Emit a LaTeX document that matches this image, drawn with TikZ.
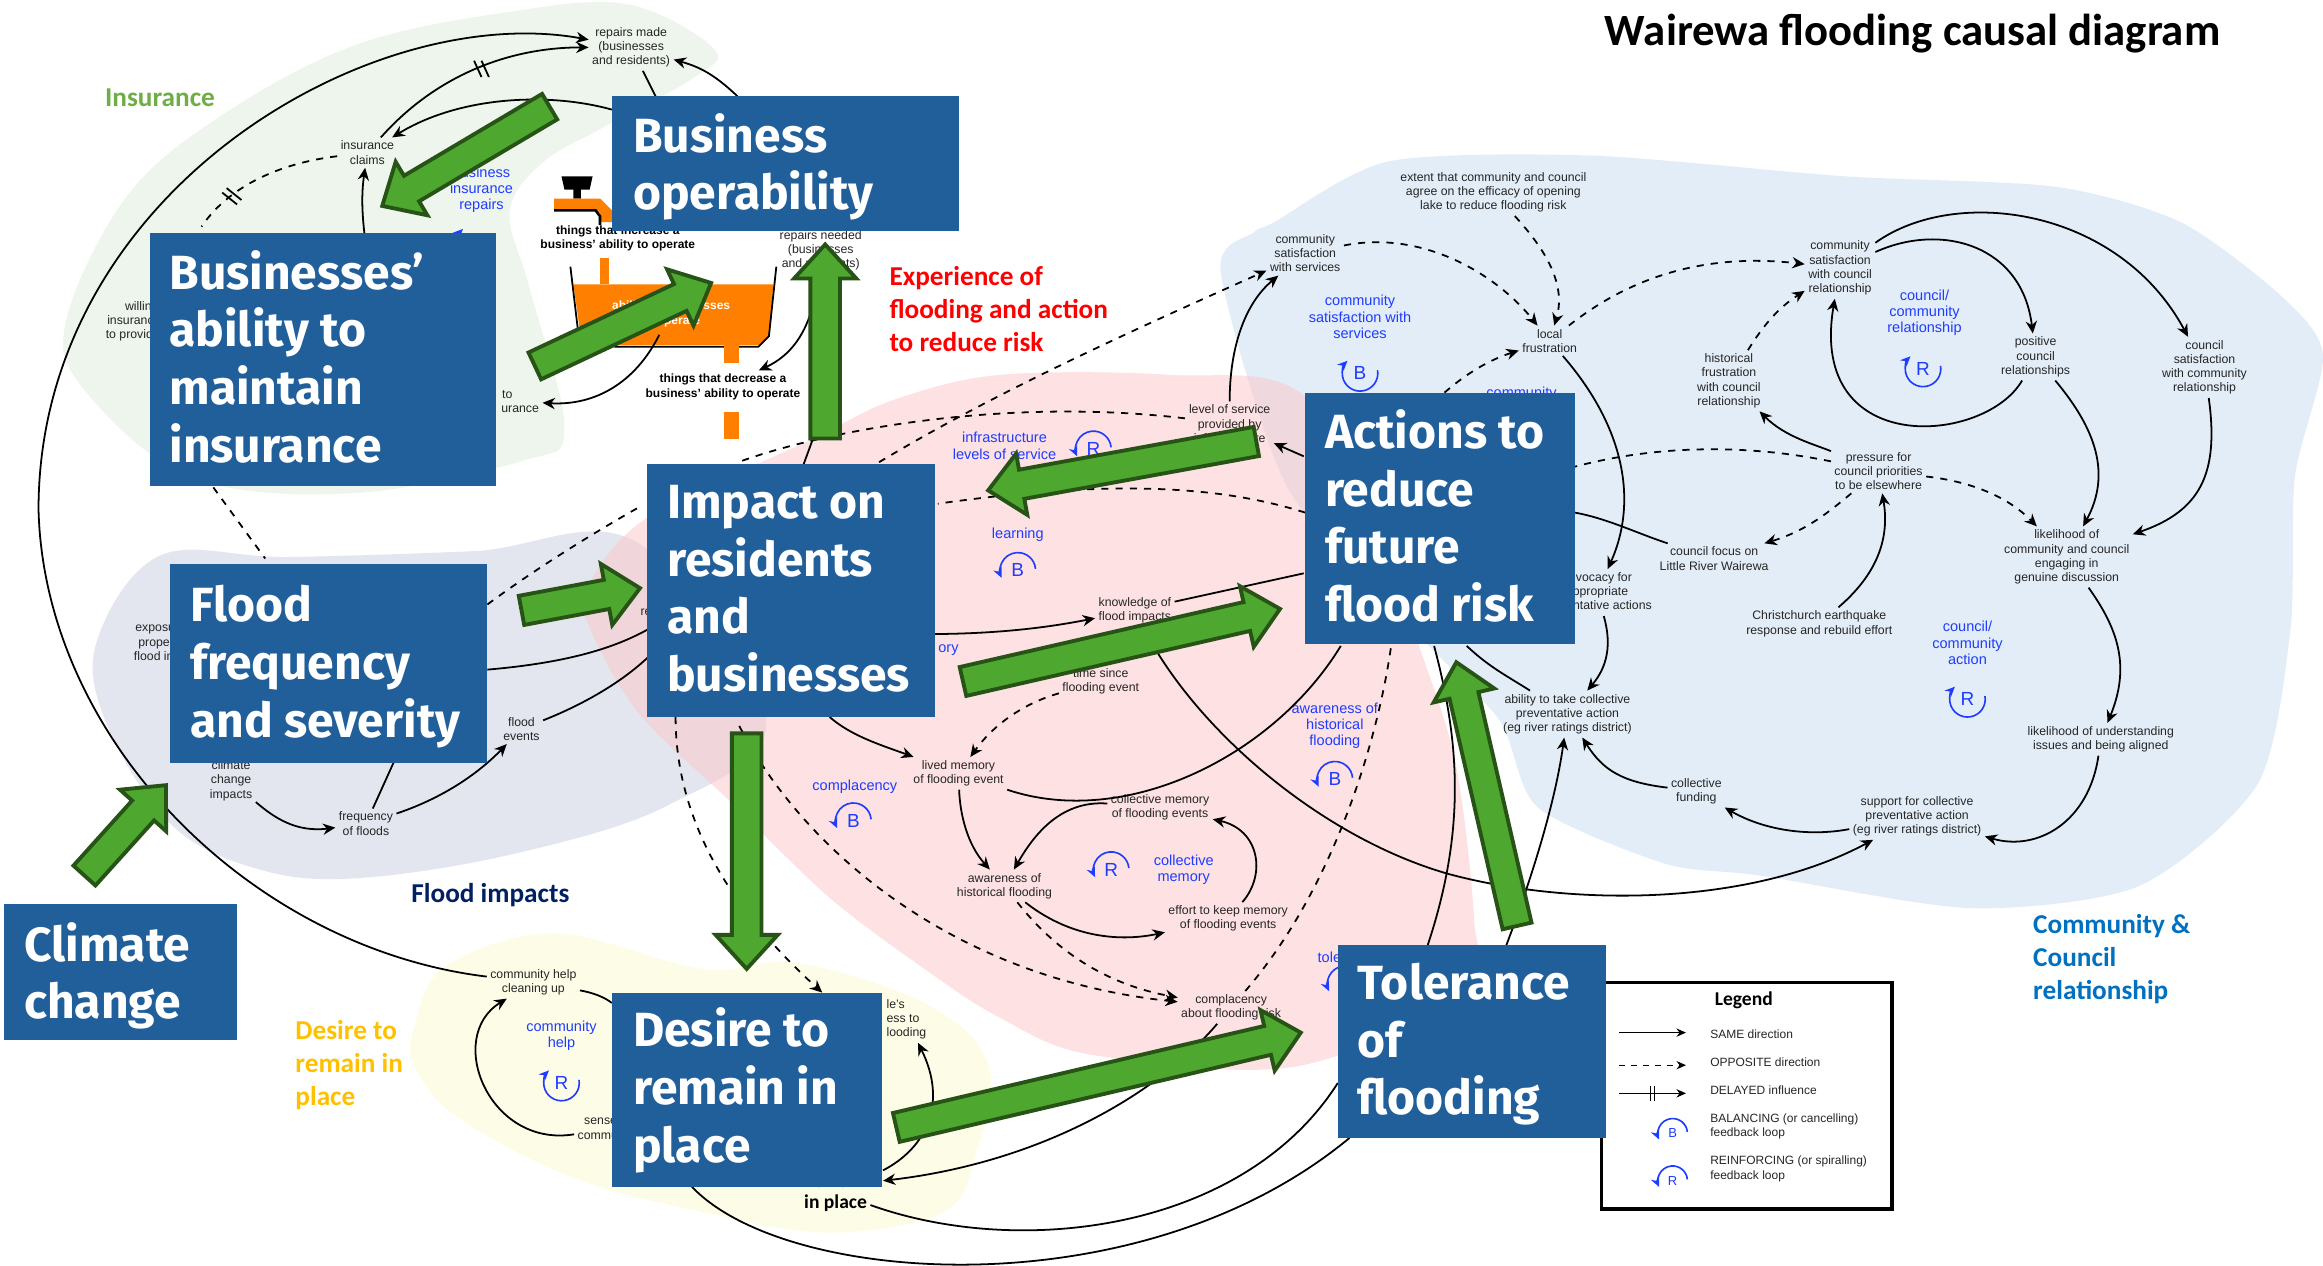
\documentclass[tikz,border=0pt]{standalone}
\usepackage{fontspec}
\setmainfont{Liberation Sans}
\newfontfamily\boxfont{Fira Sans}
\newfontfamily\labfont{Carlito}
\usetikzlibrary{calc,arrows.meta}
\definecolor{boxblue}{HTML}{215F9A}
\definecolor{gfill}{HTML}{4EA72E}
\definecolor{gline}{HTML}{275317}
\definecolor{loopblue}{HTML}{1F3CFF}
\definecolor{orangeT}{HTML}{FF8000}
\tikzset{
 t/.style={font=\fontsize{4.15}{4.8}\selectfont,align=center,inner sep=1pt,text=black!85},
 tb/.style={font=\fontsize{4.05}{4.9}\selectfont\bfseries,align=center,inner sep=1pt,text=black},
 bl/.style={font=\fontsize{4.9}{5.5}\selectfont,align=center,inner sep=1pt,text=loopblue},
 lg/.style={font=\fontsize{4.05}{4.8}\selectfont,align=left,inner sep=0pt,anchor=west,text=black!85},
 bigbox/.style={text=white,inner sep=0pt,anchor=north west,font=\boxfont\fontsize{16.2}{19.5}\selectfont\bfseries,align=left},
 cat/.style={font=\labfont\fontsize{9.2}{11.2}\selectfont\bfseries,align=left,inner sep=0pt},
 con/.style={draw=black,line width=0.6pt},
 arr/.style={con,-{Stealth[length=4.2pt,width=3.8pt]}},
 dsh/.style={dash pattern=on 2.4pt off 2.4pt},
 blob/.style={fill opacity=0.5,draw=none},
 garr/.style={fill=gfill,draw=gline,line width=1.3pt,line join=miter},
}
\newcommand\garrow[2]{%
 \coordinate (gt) at #1; \coordinate (gp) at #2;
 \coordinate (gb) at ($(gp)!11.5pt!(gt)$);
 \draw[garr] ($(gt)!5pt!90:(gp)$) -- ($(gb)!5pt!90:(gp)$) -- ($(gb)!10.5pt!90:(gp)$) -- (gp) -- ($(gb)!10.5pt!-90:(gp)$) -- ($(gb)!5pt!-90:(gp)$) -- ($(gt)!5pt!-90:(gp)$) -- cycle;}
% loop icon with its arrow at the lower left
\newcommand\loopdown[4][6pt]{%
 \draw[loopblue,line width=0.55pt,-{Stealth[length=3.4pt,width=3pt]}] (#2) ++(5:#1) arc[start angle=5,end angle=205,radius=#1];
 \node[inner sep=0pt,text=loopblue,font=\fontsize{6.4}{7}\selectfont] (#3) at (#2) {#4};}
% loop icon with its arrow at the upper left
\newcommand\loopup[4][6pt]{%
 \draw[loopblue,line width=0.55pt,-{Stealth[length=3.4pt,width=3pt]}] (#2) ++(10:#1) arc[start angle=10,end angle=-225,radius=#1];
 \node[inner sep=0pt,text=loopblue,font=\fontsize{6.4}{7}\selectfont] (#3) at (#2) {#4};}
\begin{document}
\begin{tikzpicture}[x=0.5pt,y=-0.5pt]
\useasboundingbox (0,0) rectangle (1568,854.5);
\fill[white] (0,0) rectangle (1568,854.5);
% ---- background regions
\fill[blob,fill={rgb,255:red,220;green,236;blue,218}] plot[smooth cycle,tension=0.6] coordinates {(424,3)(482,33)(469,52)(409,85)(366,110)(344,143)(357,193)(381,289)(353,311)(237,333)(129,322)(56,262)(45,215)(86,132)(151,77)(241,30)(344,8)};
\fill[blob,fill={rgb,255:red,200;green,207;blue,224}] plot[smooth cycle,tension=0.6] coordinates {(65,434)(108,375)(194,376)(320,372)(430,366)(517,485)(452,543)(344,577)(237,593)(172,586)(116,557)(73,491)};
\fill[blob,fill={rgb,255:red,253;green,253;blue,208}] plot[smooth cycle,tension=0.6] coordinates {(280,692)(301,652)(375,630)(474,654)(538,650)(624,677)(667,718)(659,778)(637,818)(560,832)(474,818)(387,795)(310,755)(280,720)};
\fill[blob,fill={rgb,255:red,200;green,221;blue,241}] plot[smooth cycle,tension=0.45] coordinates {(860,150)(937,109)(1074,105)(1245,119)(1387,126)(1472,150)(1540,200)(1568,240)(1549,322)(1546,425)(1524,529)(1444,598)(1330,613)(1188,591)(1124,583)(1038,545)(1012,486)(954,425)(869,329)(824,184)(846,157)};
\fill[blob,fill={rgb,255:red,253;green,197;blue,201}] plot[smooth cycle,tension=0.55] coordinates {(675,253)(789,253)(880,267)(939,380)(954,425)(982,513)(995,621)(990,670)(874,720)(737,712)(675,687)(624,654)(560,606)(495,543)(430,480)(396,419)(396,397)(436,350)(547,297)(603,270)};
% ---- orange tank
\fill[black] (379,119) -- (400,119) -- (398,128) -- (392,128) -- (392,134) -- (387,134) -- (387,128) -- (381,128) -- cycle;
\fill[orangeT] (374,134) -- (405,134) -- (413,142) -- (413,150) -- (405,150) -- (405,144) -- (402,141) -- (374,141) -- cycle;
\draw[line width=0.9pt] (374,142) -- (402,142) -- (405,146) -- (405,152);
\fill[orangeT] (405,174) rectangle (411,192);
\fill[orangeT] (387,192) -- (522,192) -- (519,227) -- (512,233) -- (415,233) -- (391,220) -- cycle;
\draw[line width=0.6pt] (385,180) -- (390,222) -- (415,234) -- (512,234) -- (519,227) -- (524,180);
\fill[orangeT] (489,233) rectangle (499,245);
\fill[orangeT] (489,278) rectangle (499,296);
\node[tb,text=white] (tanktext) at (453,212) {ability of businesses\\to operate};
% ---- text nodes
\node[t] (repairs) at (426,32) {repairs made\\(businesses\\and residents)};
\node[t] (claims) at (248,103) {insurance\\claims};
\node[t,align=left,anchor=west] (willing) at (69,217) {\hspace*{6.5pt}willing\\\hspace*{0.5pt}insuranc\\to provid};
\node[t,align=left,anchor=west] (urance) at (336,271) {\hspace*{0.3pt}to\\urance};
\node[tb] (increase) at (417,161) {things that increase a\\business' ability to operate};
\node[tb] (decrease) at (488,261) {things that decrease a\\business' ability to operate};
\node[t] (needed) at (554,169) {repairs needed\\(businesses\\and residents)};
\node[t,align=left,anchor=west] (exposure) at (88,434) {\hspace*{0.5pt}exposu\\\hspace*{1.5pt}proper\\flood im};
\node[t] (rehid) [anchor=west] at (430,413) {re};
\node[t] (climate) at (156,527) {climate\\change\\impacts};
\node[t] (frequency) at (247,556) {frequency\\of floods};
\node[t] (events) at (352,492) {flood\\events};
\node[t] (help) at (360,663) {community help\\cleaning up};
\node[t] (sense) at (410,762) {sense of\\community};
\node[font=\labfont\fontsize{6.6}{7.2}\selectfont\bfseries,align=center,inner sep=1pt] (inplace) at (564,805) {remain\\in place};
\node[t,align=left,anchor=west] (people) at (596,688) {le's\\ess to\\looding};
\node[t] (service) at (830,286) {level of service\\provided by\\infrastructure};
\node[t] (know) at (766,412) {knowledge of\\flood impacts};
\node[t] (since) at (743,460) {time since\\flooding event};
\node[t] (lived) at (647,522) {lived memory\\of flooding event};
\node[t] (collmem) at (783,545) {collective memory\\of flooding events};
\node[t] (aware) at (678,598) {awareness of\\historical flooding};
\node[t] (effort) at (829,620) {effort to keep memory\\of flooding events};
\node[t] (compl) at (831,680) {complacency\\about flooding risk};
\node[t] (comsat) at (881,171) {community\\satisfaction\\with services};
\node[t] (extent) at (1008,130) {extent that community and council\\agree on the efficacy of opening\\lake to reduce flooding risk};
\node[t] (frust) at (1046,230) {local\\frustration};
\node[t] (ccsat) at (1242,181) {community\\satisfaction\\with council\\relationship};
\node[t] (positive) at (1374,241) {positive\\council\\relationships};
\node[t] (ccom) at (1488,248) {council\\satisfaction\\with community\\relationship};
\node[t] (hist) at (1167,257) {historical\\frustration\\with council\\relationship};
\node[t] (pressure) at (1268,318) {pressure for\\council priorities\\to be elsewhere};
\node[t] (focus) at (1157,377) {council focus on\\Little River Wairewa};
\node[t] (likely) at (1395,376) {likelihood of\\community and council\\engaging in\\genuine discussion};
\node[t] (quake) at (1228,421) {Christchurch earthquake\\response and rebuild effort};
\node[t] (advocacy) at (1078,400) {advocacy for\\appropriate\\preventative actions};
\node[t] (ability) at (1058,482) {ability to take collective\\preventative action\\(eg river ratings district)};
\node[t] (funding) at (1145,534) {collective\\funding};
\node[t] (support) at (1294,551) {support for collective\\preventative action\\(eg river ratings district)};
\node[t] (under) at (1418,499) {likelihood of understanding\\issues and being aligned};
% ---- blue labels
\node[bl] (lb1) at (325,128) {business\\insurance\\repairs};
\node[bl] (lb2) at (678,301) {infrastructure\\levels of service};
\node[bl] (lb3) at (687,361) {learning};
\node[bl] (lb4) at (918,214) {community\\satisfaction with\\services};
\node[bl,anchor=north] (lb5) at (1027,258.5) {community};
\node[bl] (lb6) at (1299,211) {council/\\community\\relationship};
\node[bl] (lb7) at (1328,434) {council/\\community\\action};
\node[bl] (lb8) at (901,490) {awareness of\\historical\\flooding};
\node[bl,anchor=west] (lb9) at (631,439) {ory};
\node[bl] (lb10) at (577,531) {complacency};
\node[bl] (lb11) at (799,587) {collective\\memory};
\node[bl] (lb12) at (379,699) {community\\help};
\node[bl,anchor=west] (lb13) at (887,646) {tole};
% ---- loop icons
\loopup{321,163}{lp1}{}
\loopdown{738,303}{lp2}{R}
\loopdown{687,385}{lp3}{B}
\loopup{918,252}{lp4}{B}
\loopup{1298,249}{lp5}{R}
\loopup{1328,472}{lp6}{R}
\loopdown{901,526}{lp7}{B}
\loopdown{576,554}{lp8}{B}
\loopdown{750,587}{lp9}{R}
\loopup{379,731}{lp10}{R}
\loopdown{908,664}{lp11}{}
% ---- hidden ends of connectors
\coordinate (c1) at (413,74);
\coordinate (c2) at (450,80);
\coordinate (c3) at (505,72);
\coordinate (c4) at (247,165);
\coordinate (c5) at (136,153);
\coordinate (c6) at (144,329);
\coordinate (c7) at (179,377);
\coordinate (c8) at (445,226);
\coordinate (c9) at (549,205);
\coordinate (c10) at (551,290);
\coordinate (c11) at (540,320);
\coordinate (f1) at (329,408);
\coordinate (f2) at (432,342);
\coordinate (f3) at (577,322);
\coordinate (f4) at (501,311);
\coordinate (f5) at (633,340);
\coordinate (f6) at (881,346);
\coordinate (f7) at (1063,315);
\coordinate (f8) at (975,265);
\coordinate (f9) at (1063,346);
\coordinate (f10) at (990,436);
\coordinate (f11) at (968,436);
\coordinate (f12) at (963,640);
\coordinate (f13) at (905,436);
\coordinate (f14) at (880,387);
\coordinate (f15) at (625,428);
\coordinate (f16) at (560,484);
\coordinate (f17) at (499,490);
\coordinate (f18) at (939,436);
\coordinate (f19) at (456,484);
\coordinate (f20) at (266,514);
\coordinate (f21) at (437,444);
\coordinate (f22) at (329,452);
\coordinate (f23) at (437,425);
\coordinate (f24) at (413,677);
\coordinate (f25) at (467,801);
\coordinate (f26) at (911,768);
\coordinate (f27) at (903,731);
\coordinate (f28) at (596,797);
\coordinate (f29) at (596,790);
\coordinate (f30) at (1016,640);
\coordinate (f31) at (880,308);
\coordinate (f32) at (555,670);
% ---- connectors: upper left
\draw[arr] (help) .. controls (170,640) and (30,500) .. (26,344) .. controls (26,130) and (250,0) .. (repairs);
\draw[arr] (claims) .. controls (295,50) and (345,32) .. (repairs);
\draw[con] (320,41) -- (325,52);
\draw[con] (325,41) -- (330,52);
\draw[arr] (c1) .. controls (370,62) and (310,65) .. (claims);
\draw[con] (repairs) -- (c2);
\draw[arr] (c3) .. controls (485,52) and (475,46) .. (repairs);
\draw[con,dsh] (claims) .. controls (190,110) and (155,125) .. (c5);
\draw[con] (150,130) -- (160,138);
\draw[con] (153,127) -- (163,135);
\draw[con,dsh] (c6) -- (c7);
\draw[arr] (c4) .. controls (244,145) and (244,130) .. (claims);
\draw[arr] (c8) .. controls (429,258) and (402,274) .. (urance);
\draw[arr] (c9) .. controls (544,225) and (534,240) .. (decrease);
\draw[con] (c10) -- (c11);
% flood side
\draw[con,dsh] (f1) .. controls (360,385) and (400,360) .. (f2);
\draw[arr,dsh] (f3) .. controls (660,270) and (760,225) .. (comsat);
\draw[con,dsh] (f4) .. controls (560,290) and (680,268) .. (service);
\draw[con,dsh] (f6) .. controls (830,330) and (760,322) .. (f5);
\draw[con,dsh] (pressure) .. controls (1180,300) and (1120,300) .. (f7);
\draw[arr] (service) .. controls (830,235) and (840,205) .. (comsat);
\draw[arr] (f31) -- (service);
\draw[arr,dsh] (comsat) .. controls (960,155) and (1010,185) .. (frust);
\draw[arr,dsh] (extent) .. controls (1040,165) and (1058,190) .. (frust);
\draw[arr,dsh] (f8) .. controls (990,252) and (1005,243) .. (frust);
\draw[arr,dsh] (frust) .. controls (1103,185) and (1154,171) .. (ccsat);
\draw[arr] (frust) .. controls (1098,290) and (1105,340) .. (advocacy);
\draw[arr] (advocacy) .. controls (1088,435) and (1085,450) .. (ability);
\draw[con] (focus) .. controls (1105,360) and (1085,350) .. (f9);
\draw[con] (ability) .. controls (1015,455) and (1005,450) .. (f10);
\draw[con] (f11) .. controls (985,500) and (990,560) .. (f12);
\draw[con] (lived) .. controls (760,560) and (860,510) .. (f13);
\draw[arr] (know) .. controls (805,490) and (890,565) .. (978,590) .. controls (1060,612) and (1180,612) .. (support);
\draw[con] (know) -- (f14);
\draw[arr] (f15) .. controls (665,428) and (700,425) .. (know);
\draw[arr,dsh] (since) .. controls (690,475) and (670,490) .. (lived);
\draw[arr] (f16) .. controls (575,497) and (595,503) .. (lived);
\draw[arr] (lived) .. controls (648,550) and (653,570) .. (aware);
\draw[arr] (collmem) .. controls (715,540) and (697,565) .. (aware);
\draw[arr] (effort) .. controls (855,590) and (850,560) .. (collmem);
\draw[arr] (aware) .. controls (725,635) and (760,635) .. (effort);
\draw[arr,dsh] (aware) .. controls (715,645) and (750,665) .. (compl);
\draw[arr,dsh] (f17) .. controls (540,570) and (640,660) .. (compl);
\draw[con,dsh] (compl) .. controls (900,600) and (930,500) .. (f18);
\draw[arr,dsh] (f19) .. controls (456,560) and (500,620) .. (f32);
% flood impacts cluster
\draw[arr] (climate) .. controls (185,552) and (200,562) .. (frequency);
\draw[arr] (frequency) .. controls (295,540) and (320,525) .. (events);
\draw[con] (frequency) -- (f20);
\draw[con] (events) .. controls (395,475) and (420,460) .. (f21);
\draw[con] (f22) .. controls (375,448) and (410,440) .. (f23);
% desire cluster
\draw[arr] (sense) .. controls (330,775) and (300,700) .. (help);
\draw[con] (help) .. controls (400,670) and (408,673) .. (f24);
\draw[con] (f25) .. controls (530,868) and (770,885) .. (f26);
\draw[con] (inplace) .. controls (690,850) and (840,830) .. (f27);
\draw[arr] (compl) .. controls (780,740) and (700,785) .. (f28);
\draw[arr] (f29) .. controls (625,775) and (640,745) .. (people);
% right cluster
\draw[arr] (ccsat) .. controls (1310,150) and (1365,165) .. (positive);
\draw[arr] (ccsat) .. controls (1320,125) and (1430,140) .. (ccom);
\draw[arr] (positive) .. controls (1340,300) and (1220,310) .. (ccsat);
\draw[arr,dsh] (hist) .. controls (1190,220) and (1200,208) .. (ccsat);
\draw[arr] (pressure) .. controls (1225,300) and (1205,295) .. (hist);
\draw[arr,dsh] (pressure) .. controls (1330,325) and (1355,335) .. (likely);
\draw[arr,dsh] (pressure) .. controls (1235,345) and (1220,358) .. (focus);
\draw[arr] (quake) .. controls (1270,385) and (1275,360) .. (pressure);
\draw[arr] (positive) .. controls (1415,290) and (1425,320) .. (likely);
\draw[arr] (ccom) .. controls (1498,320) and (1485,345) .. (likely);
\draw[arr] (likely) .. controls (1430,425) and (1438,450) .. (under);
\draw[arr] (under) .. controls (1410,555) and (1375,575) .. (support);
\draw[arr] (support) .. controls (1220,565) and (1190,560) .. (funding);
\draw[arr] (funding) .. controls (1095,528) and (1082,520) .. (ability);
\draw[arr] (f30) .. controls (1035,590) and (1050,540) .. (ability);
% ---- legend
\node[draw=black,line width=1.1pt,fill=white,minimum width=98pt,minimum height=76.5pt,inner sep=0pt,anchor=north west] (legend) at (1080,662) {};
\node[font=\labfont\fontsize{6.6}{8}\selectfont\bfseries,inner sep=0pt] (legtitle) at (1177,675) {Legend};
\node[lg] (l1) at (1154,698) {SAME direction};
\node[lg] (l2) at (1154,717) {OPPOSITE direction};
\node[lg] (l3) at (1154,736) {DELAYED influence};
\node[lg] (l4) at (1154,760.5) {BALANCING (or cancelling)\\feedback loop};
\node[lg] (l5) at (1154,789) {REINFORCING (or spiralling)\\feedback loop};
\coordinate (la) at (1093,697); \coordinate (lb) at (1138,697);
\coordinate (lc) at (1093,719); \coordinate (ld) at (1138,719);
\coordinate (le) at (1093,738); \coordinate (lf) at (1138,738);
\draw[line width=0.35pt,-{Stealth[length=3.2pt,width=2.8pt]}] (la) -- (lb);
\draw[line width=0.35pt,dash pattern=on 2pt off 2pt,-{Stealth[length=3.2pt,width=2.8pt]}] (lc) -- (ld);
\draw[line width=0.35pt,-{Stealth[length=3.2pt,width=2.8pt]}] (le) -- (lf);
\draw[line width=0.35pt] (1114,733) -- (1114,743) (1117,733) -- (1117,743);
\loopdown[5pt]{1129,765}{lp12}{\fontsize{4.4}{5}\selectfont B}
\loopdown[5pt]{1129,797}{lp13}{\fontsize{4.4}{5}\selectfont R}
% ---- labels
\node[font=\labfont\fontsize{15.1}{17}\selectfont\bfseries,inner sep=0pt] (title) at (1291,23) {Wairewa flooding causal diagram};
\node[cat,text={rgb,255:red,112;green,173;blue,71}] (cat1) at (108,66) {Insurance};
\node[cat,text={rgb,255:red,0;green,32;blue,96}] (cat2) at (331,604) {Flood impacts};
\node[cat,anchor=west,text={rgb,255:red,255;green,192;blue,0}] (cat3) at (199,719) {Desire to\\remain in\\place};
\node[cat,anchor=west,text={rgb,255:red,0;green,112;blue,192}] (cat4) at (1372,647.5) {Community \&\\Council\\relationship};
\node[cat,anchor=west,text=red] (cat5) at (600,208.5) {Experience of\\flooding and action\\to reduce risk};
% ---- blue boxes
\fill[boxblue] (413,65) rectangle (647,156);
\node[bigbox] (bx1) at (427,76) {Business\\operability};
\fill[boxblue] (101,157) rectangle (335,328);
\node[bigbox] (bx2) at (114,168.5) {Businesses’\\ability to\\maintain\\insurance};
\fill[boxblue] (437,313) rectangle (631,484);
\node[bigbox] (bx3) at (450,327) {Impact on\\residents\\and\\businesses};
\fill[boxblue] (115,381) rectangle (329,515);
\node[bigbox] (bx4) at (128,394.5) {Flood\\frequency\\and severity};
\fill[boxblue] (881,265) rectangle (1063,435);
\node[bigbox] (bx5) at (894,276) {Actions to\\reduce\\future\\flood risk};
\fill[boxblue] (3,610) rectangle (160,702);
\node[bigbox] (bx6) at (16,622) {Climate\\change};
\fill[boxblue] (413,670) rectangle (595,801);
\node[bigbox] (bx7) at (427,680) {Desire to\\remain in\\place};
\fill[boxblue] (903,638) rectangle (1084,768);
\node[bigbox] (bx8) at (916,649.5) {Tolerance\\of\\flooding};
% ---- green arrows
\garrow{(371,72)}{(258,139)}
\garrow{(361,247)}{(480,191)}
\garrow{(557,296)}{(557,165)}
\garrow{(848,298)}{(667,331)}
\garrow{(352,412)}{(432,397)}
\garrow{(650,460)}{(864,411)}
\garrow{(57,591)}{(112,530)}
\garrow{(504,495)}{(504,654)}
\garrow{(605,761)}{(878,697)}
\garrow{(1024,625)}{(983,447)}
\end{tikzpicture}
\end{document}
